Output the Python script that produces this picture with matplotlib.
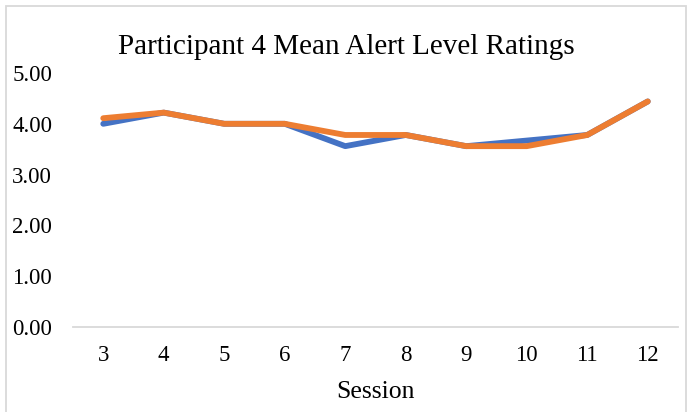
import matplotlib.pyplot as plt
from matplotlib.patches import Rectangle

# mean alert level ratings per session
sessions = [3, 4, 5, 6, 7, 8, 9, 10, 11, 12]
series_blue = [4.00, 4.22, 4.00, 4.00, 3.56, 3.78, 3.56, 3.67, 3.78, 4.44]
series_orange = [4.11, 4.22, 4.00, 4.00, 3.78, 3.78, 3.56, 3.56, 3.78, 4.44]
y_ticks = [0, 1, 2, 3, 4, 5]

plt.rcParams['font.family'] = ['Liberation Serif', 'DejaVu Serif']

fig = plt.figure(figsize=(6.99, 4.12), dpi=100)
ax = fig.add_axes([73 / 699, 1 - 327 / 412, 605 / 699, 254 / 412])

x = range(len(sessions))
ax.plot(x, series_blue, color='#4472C4', lw=4.2, solid_capstyle='round',
        solid_joinstyle='round', zorder=3)
ax.plot(x, series_orange, color='#ED7D31', lw=4.2, solid_capstyle='round',
        solid_joinstyle='round', zorder=4)

ax.set_xlim(-0.5, len(sessions) - 0.5)
ax.set_ylim(0, 5)
ax.set_xticks(list(x))
ax.set_xticklabels([str(s) for s in sessions])
ax.set_yticks(y_ticks)
ax.set_yticklabels([f"{v:.2f}" for v in y_ticks])
ax.tick_params(length=0, labelsize=16.5, colors='#000000')
ax.tick_params(axis='x', pad=13)
ax.tick_params(axis='y', pad=15)

for side in ['top', 'right', 'left']:
    ax.spines[side].set_visible(False)
ax.spines['bottom'].set_color('#d9d9d9')
ax.spines['bottom'].set_linewidth(1.3)

fig.text(376 / 699, 1 - 392 / 412, 'Session', ha='center', va='center',
         fontsize=18.5)
fig.text(346 / 699, 1 - 47 / 412, 'Participant 4 Mean Alert Level Ratings',
         ha='center', va='center', fontsize=21)

# light chart-area frame
fig.patches.append(Rectangle((6 / 699, -0.05), 680 / 699, 1.05 - 6 / 412,
                             transform=fig.transFigure, fill=False,
                             edgecolor='#d9d9d9', lw=1.3))

fig.savefig('out.png', dpi=100)
